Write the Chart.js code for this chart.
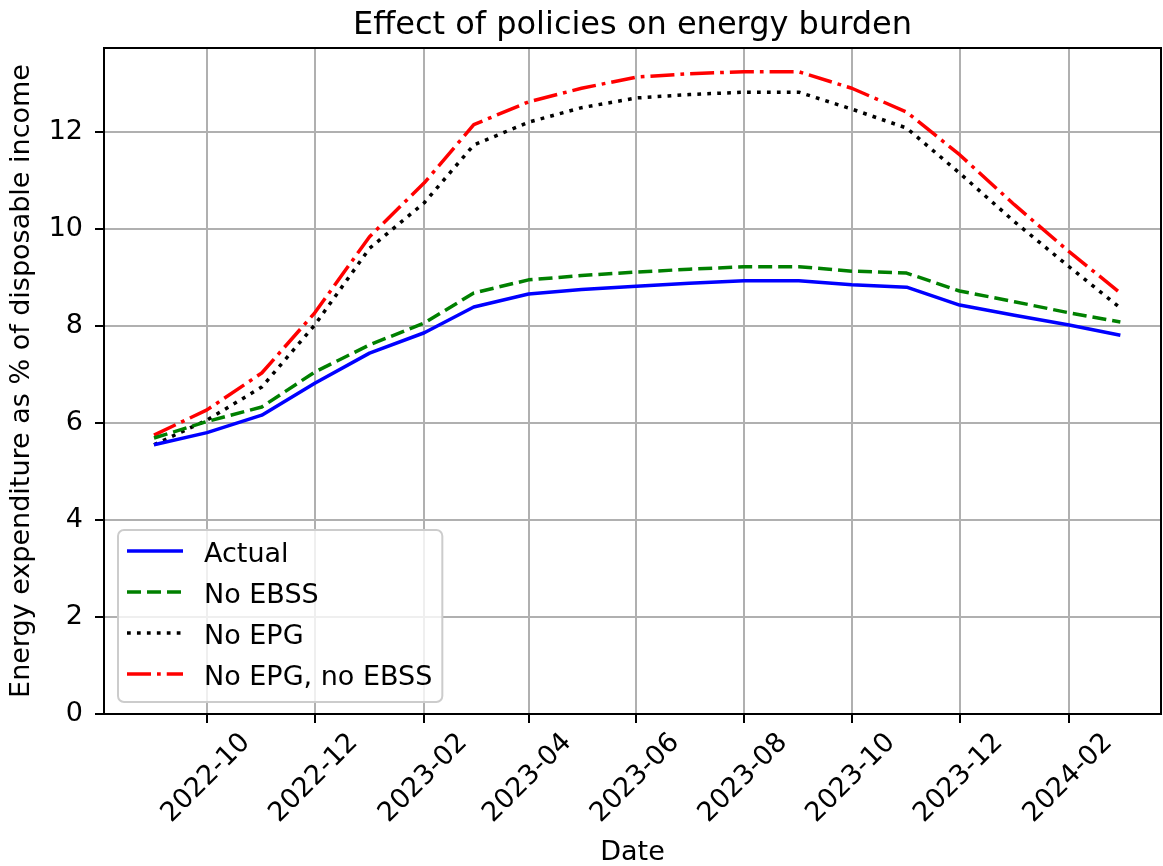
<!DOCTYPE html>
<html>
<head>
<meta charset="utf-8">
<script src="https://cdn.jsdelivr.net/npm/chart.js@4.4.1/dist/chart.umd.min.js"></script>
<style>
html, body { margin: 0; padding: 0; background: #fff; }
</style>
</head>
<body>
<canvas id="chart" width="1163" height="866"></canvas>
<script>
// monthly values, % of disposable income
const months = ['2022-09','2022-10','2022-11','2022-12','2023-01','2023-02','2023-03','2023-04','2023-05','2023-06',
                '2023-07','2023-08','2023-09','2023-10','2023-11','2023-12','2024-01','2024-02','2024-03'];
const actual      = [5.55, 5.80, 6.16, 6.82, 7.44, 7.86, 8.39, 8.66, 8.75, 8.82, 8.88, 8.93, 8.93, 8.85, 8.80, 8.43, 8.22, 8.02, 7.81];
const noEbss      = [5.69, 6.03, 6.33, 7.05, 7.61, 8.06, 8.68, 8.95, 9.04, 9.11, 9.17, 9.22, 9.22, 9.13, 9.09, 8.72, 8.50, 8.27, 8.08];
const noEpg       = [5.55, 6.06, 6.74, 8.02, 9.60, 10.54, 11.73, 12.20, 12.50, 12.70, 12.77, 12.82, 12.82, 12.47, 12.08, 11.15, 10.15, 9.22, 8.37];
const noEpgNoEbss = [5.75, 6.27, 7.03, 8.27, 9.84, 10.95, 12.15, 12.62, 12.90, 13.13, 13.20, 13.24, 13.24, 12.90, 12.41, 11.53, 10.50, 9.53, 8.68];

const tickLabels = ['2022-10','2022-12','2023-02','2023-04','2023-06','2023-08','2023-10','2023-12','2024-02'];
const yTicks = [0, 2, 4, 6, 8, 10, 12];

// days since 2022-09-01, so the x axis spaces months like a date axis
function dayOf(m) {
    let [y, mo] = m.split('-').map(Number);
    return (Date.UTC(y, mo - 1, 1) - Date.UTC(2022, 8, 1)) / 86400000;
}
function series(vals) {
    return vals.map((v, i) => ({x: dayOf(months[i]), y: v}));
}

Chart.defaults.font.family = '"DejaVu Sans", sans-serif';
Chart.defaults.color = '#000';

const frame = {
    id: 'frame',
    afterDatasetsDraw(chart) {
        let {ctx, chartArea: a} = chart;
        ctx.save();
        ctx.strokeStyle = '#000';
        ctx.lineWidth = 2;
        ctx.beginPath();
        ctx.moveTo(a.left, a.top);
        ctx.lineTo(a.right, a.top);
        ctx.lineTo(a.right, a.bottom);
        ctx.stroke();
        ctx.restore();
    }
};

const boxLegend = {
    id: 'boxLegend',
    afterDraw(chart) {
        let {ctx, chartArea: a} = chart;
        let sets = chart.data.datasets;
        ctx.save();
        ctx.font = '27px "DejaVu Sans"';
        let textW = Math.max(...sets.map(d => ctx.measureText(d.label).width));
        let h = 172;
        let x0 = a.left + 14, y0 = a.bottom - 12 - h;
        let w = 9 + 56 + 21 + textW + 10;
        ctx.beginPath();
        ctx.roundRect(x0, y0, w, h, 6);
        ctx.fillStyle = 'rgba(255,255,255,0.8)';
        ctx.fill();
        ctx.strokeStyle = '#cccccc';
        ctx.lineWidth = 2;
        ctx.stroke();
        sets.forEach((d, i) => {
            let cy = y0 + 21 + i * 41;
            ctx.beginPath();
            ctx.setLineDash(d.borderDash || []);
            ctx.strokeStyle = d.borderColor;
            ctx.lineWidth = d.borderWidth;
            ctx.moveTo(x0 + 9, cy);
            ctx.lineTo(x0 + 65, cy);
            ctx.stroke();
            ctx.setLineDash([]);
            ctx.fillStyle = '#000';
            ctx.textBaseline = 'alphabetic';
            ctx.fillText(d.label, x0 + 86, cy + 10.5);
        });
        ctx.restore();
    }
};

const lw = 3.5;
let ctx = document.getElementById('chart');
let chart = new Chart(ctx, {
    type: 'line',
    data: {
        datasets: [
            {label: 'Actual', data: series(actual), borderColor: '#0000ff', borderWidth: lw, borderDash: []},
            {label: 'No EBSS', data: series(noEbss), borderColor: '#008000', borderWidth: lw, borderDash: [14, 6]},
            {label: 'No EPG', data: series(noEpg), borderColor: '#000000', borderWidth: lw, borderDash: [3.75, 6.2]},
            {label: 'No EPG, no EBSS', data: series(noEpgNoEbss), borderColor: '#ff0000', borderWidth: lw, borderDash: [24, 6, 3.75, 6]}
        ]
    },
    options: {
        responsive: false,
        animation: false,
        devicePixelRatio: 1,
        layout: {padding: {left: 0, right: 2, top: 0, bottom: 0}},
        elements: {
            point: {radius: 0},
            line: {tension: 0, fill: false, borderJoinStyle: 'round'}
        },
        plugins: {
            legend: {display: false},
            tooltip: {enabled: false},
            title: {
                display: true,
                text: 'Effect of policies on energy burden',
                fullSize: false,
                color: '#000',
                font: {size: 32, weight: 'normal', lineHeight: 1},
                padding: {top: 9.5, bottom: 6.5}
            }
        },
        scales: {
            x: {
                type: 'linear',
                min: -28.3,
                max: 570,
                afterBuildTicks: s => { s.ticks = tickLabels.map(l => ({value: dayOf(l)})); },
                afterFit: s => { s.height = 152; s.paddingLeft = 0; s.paddingRight = 0; },
                ticks: {
                    autoSkip: false,
                    minRotation: 45,
                    maxRotation: 45,
                    labelOffset: 39,
                    padding: 4,
                    font: {size: 27},
                    color: '#000',
                    callback: (v, i) => tickLabels[i]
                },
                grid: {color: '#b0b0b0', lineWidth: 2, tickLength: 9, tickColor: '#000', tickWidth: 2},
                border: {color: '#000', width: 2},
                title: {display: true, text: 'Date', color: '#000', font: {size: 27, lineHeight: 1}, padding: {top: 0, bottom: 0}}
            },
            y: {
                min: 0,
                max: 13.73,
                afterBuildTicks: s => { s.ticks = yTicks.map(v => ({value: v})); },
                afterFit: s => { s.width = 104; s.paddingTop = 0; s.paddingBottom = 0; },
                ticks: {font: {size: 27}, color: '#000', padding: 12},
                grid: {color: '#b0b0b0', lineWidth: 2, tickLength: 9, tickColor: '#000', tickWidth: 2},
                border: {color: '#000', width: 2},
                title: {
                    display: true,
                    text: 'Energy expenditure as % of disposable income',
                    color: '#000',
                    font: {size: 27, lineHeight: 1},
                    padding: {top: 8, bottom: 0}
                }
            }
        }
    },
    plugins: [frame, boxLegend]
});
</script>
</body>
</html>
